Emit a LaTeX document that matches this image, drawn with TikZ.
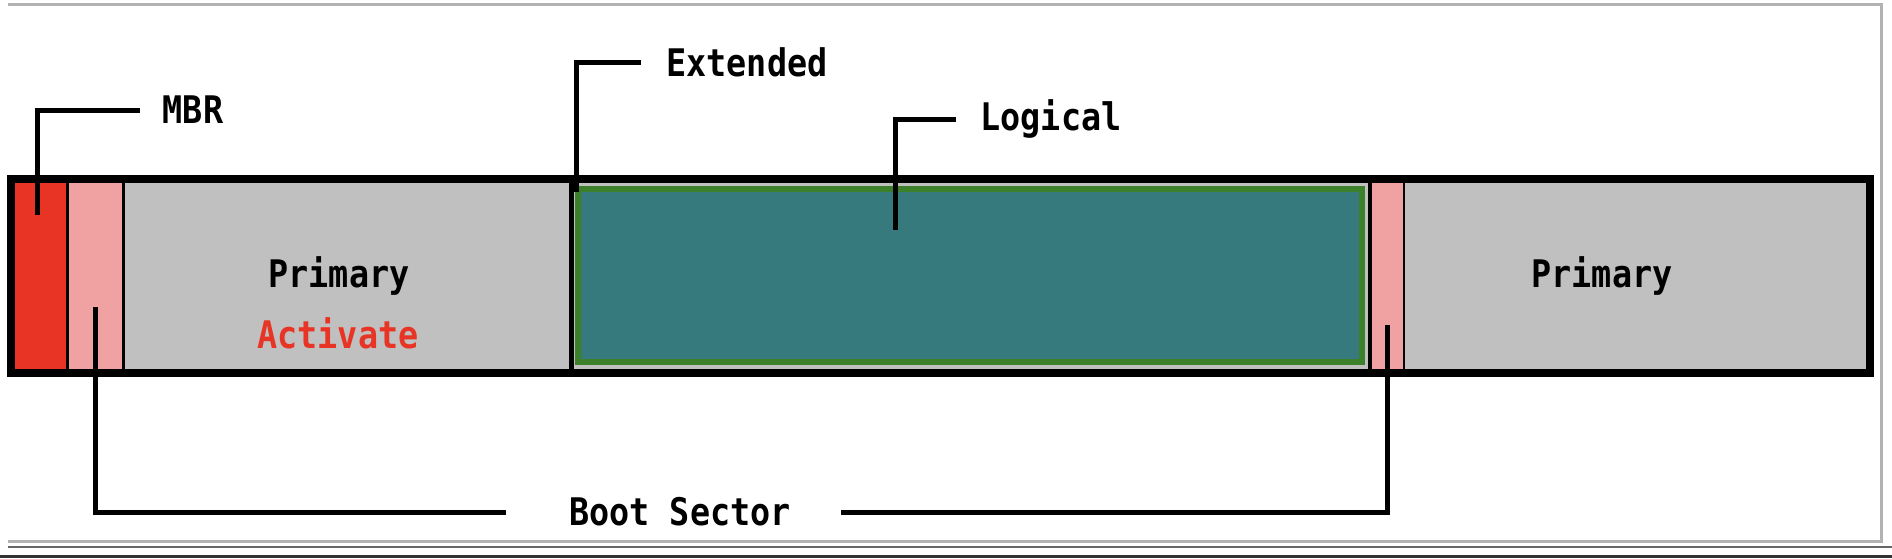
\documentclass[tikz,border=0pt]{standalone}
\usepackage{fontspec}
\newfontfamily\pixfont{DejaVu Sans Mono}[FakeStretch=0.88]

\definecolor{mbrred}{RGB}{232,52,36}
\definecolor{bootpink}{RGB}{240,162,162}
\definecolor{partgray}{RGB}{192,192,192}
\definecolor{logicteal}{RGB}{55,122,126}
\definecolor{logicgreen}{RGB}{60,128,42}
\definecolor{framegray}{RGB}{178,178,178}

\tikzset{
  lbl/.style={font=\pixfont\bfseries\fontsize{19}{22}\selectfont, inner sep=0pt},
  leader/.style={line width=2.5pt},
}

\begin{document}
\begin{tikzpicture}[x=0.5pt,y=-0.5pt]
		\useasboundingbox (0,0) rectangle (1892,558);
		
		% Marco de la ventana
		\draw[line width=1.5pt, framegray] (8,4.5) -- (1881,4.5) -- (1881,541) -- (8,541);
		\draw[line width=0.75pt, black!60] (8,547) -- (1892,547);
		\fill[black!80] (0,555) rectangle (1892,558);
		
		% Particiones
		\fill[mbrred] (11,179) rectangle (67,373);
		\fill[bootpink] (67,179) rectangle (124,373);
		\fill[partgray] (124,179) rectangle (1870,373);
		\fill[bootpink] (1370,179) rectangle (1404,373);
		\draw[line width=3pt, logicgreen, fill=logicteal] (577.5,189) rectangle (1361.5,362);
		
		% Divisiones
		\draw[line width=1.5pt] (67.5,179) -- (67.5,373);
		\draw[line width=1.5pt] (123.5,179) -- (123.5,373);
		\draw[line width=2.5pt] (571,179) -- (571,373);
		\draw[line width=2pt] (1370,179) -- (1370,373);
		\draw[line width=1.25pt] (1404,179) -- (1404,373);
		
		% Borde del disco
		\draw[line width=4pt] (11,179) rectangle (1870,373);
		
		% Textos
		\node[lbl] (primA) at (339,276) {Primary};
		\node[lbl, text=mbrred] (activ) at (338,333) {Activate};
		\node[lbl] (primB) at (1602,276) {Primary};
		\node[lbl] (mbr) at (193,110) {MBR};
		\node[lbl] (ext) at (747,62) {Extended};
		\node[lbl] (logic) at (1051,119) {Logical};
		\node[lbl] (boot) at (680,512) {Boot Sector};
		
		% Puntos de las flechas
		\coordinate (mbrIn) at (37,215);
		\coordinate (extIn) at (576,192);
		\coordinate (logicIn) at (895,230);
		\coordinate (bootA) at (95,307);
		\coordinate (bootB) at (1387,325);
		
		% Lineas guia
		\draw[leader] (mbrIn) |- ([xshift=-11pt]mbr.west);
		\draw[leader] (extIn) |- ([xshift=-12.5pt]ext.west);
		\draw[leader] (logicIn) |- ([xshift=-12pt]logic.west);
		\draw[leader] (bootA) |- ([xshift=-31.5pt]boot.west);
		\draw[leader] (bootB) |- ([xshift=25pt]boot.east);
		
	\end{tikzpicture}
\end{document}
